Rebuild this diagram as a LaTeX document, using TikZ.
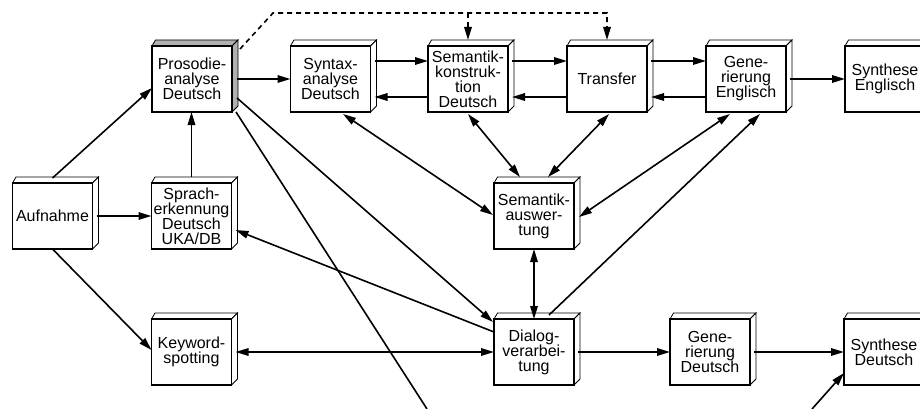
\documentclass[tikz,border=0pt]{standalone}
\usepackage{fontspec}
\setmainfont{Liberation Sans}
\usetikzlibrary{arrows.meta,calc}
\tikzset{
  bx/.style={draw,fill=white,line width=1.9pt,minimum width=80,minimum height=66,inner sep=0pt,outer sep=0pt,align=center,font=\fontsize{16}{15}\selectfont},
  depth/.style={line width=0.8pt,line join=miter},
  tip/.tip={Triangle[length=13pt,width=7.5pt]},
  conn/.style={line width=1.6pt,-tip},
  bconn/.style={line width=1.6pt,tip-tip},
  pline/.style={line width=1.6pt},
  dline/.style={line width=1.6pt,dash pattern=on 5pt off 4pt,-tip}
}
\newcommand\mybox[5]{%
  \filldraw[depth,fill=#4] ({#2-40},{#3-33}) -- ({#2-36.5},{#3-39}) -- ({#2+46},{#3-39}) -- ({#2+40},{#3-33}) -- cycle;
  \filldraw[depth,fill=#4] ({#2+40},{#3-33}) -- ({#2+46},{#3-39}) -- ({#2+46},{#3+27}) -- ({#2+40},{#3+33}) -- cycle;
  \node[bx] (#1) at (#2,#3) {#5};
}
\begin{document}
\begin{tikzpicture}[x=1pt,y=-1pt]
\useasboundingbox[fill=white] (0,0) rectangle (920,409);
% boxes
\mybox{pros}{192}{79}{gray!62}{Prosodie-\\analyse\\Deutsch}
\mybox{syn}{330.5}{79}{white}{Syntax-\\analyse\\Deutsch}
\mybox{skon}{468}{79}{white}{Semantik-\\konstruk-\\tion\\Deutsch}
\mybox{trans}{607}{79}{white}{Transfer}
\mybox{geng}{746}{79}{white}{Gene-\\rierung\\Englisch}
\mybox{seng}{885}{79}{white}{Synthese\\Englisch}
\mybox{auf}{52.5}{216}{white}{Aufnahme}
\mybox{spr}{191.5}{216}{white}{Sprach-\\erkennung\\Deutsch\\UKA/DB}
\mybox{sausw}{534}{216}{white}{Semantik-\\auswer-\\tung}
\mybox{kw}{191.5}{352}{white}{Keyword-\\spotting}
\mybox{dia}{534}{352}{white}{Dialog-\\verarbei-\\tung}
\mybox{gdeu}{710}{352}{white}{Gene-\\rierung\\Deutsch}
\mybox{sdeu}{884}{352}{white}{Synthese\\Deutsch}
% free ends
\coordinate (cutA) at (427,409);
\coordinate (cutB) at (812,409);
\coordinate (dk) at (273,13);
% connectors
\draw[conn] ([yshift=5pt]auf.north) -- ([yshift=-9pt]pros.west);
\draw[conn] ([xshift=4pt]auf.east) -- (spr.west);
\draw[conn] (auf.south) -- ([yshift=2pt]kw.west);
\draw[conn] ([yshift=6pt]spr.north) -- (spr.north |- pros.south);
\draw[conn] ([xshift=5pt]pros.east) -- (syn.west);
\draw[conn] ([xshift=4pt,yshift=18pt]syn.east) -- ([yshift=18pt]skon.west);
\draw[conn] ([yshift=-18pt]skon.west) -- ([xshift=4pt,yshift=-18pt]syn.east);
\draw[conn] ([xshift=4pt,yshift=18pt]skon.east) -- ([yshift=18pt]trans.west);
\draw[conn] ([yshift=-18pt]trans.west) -- ([xshift=4pt,yshift=-18pt]skon.east);
\draw[conn] ([xshift=4pt,yshift=18pt]trans.east) -- ([yshift=18pt]geng.west);
\draw[conn] ([yshift=-18pt]geng.west) -- ([xshift=4pt,yshift=-18pt]trans.east);
\draw[conn] ([xshift=4pt]geng.east) -- (seng.west);
\draw[dline] ([xshift=8pt,yshift=-3pt]pros.north east) -- (dk) -| ([yshift=6pt]trans.north);
\draw[dline] (dk -| skon.north) -- ([yshift=6pt]skon.north);
\draw[bconn] ([xshift=12.5pt,yshift=-2pt]syn.south) -- ([xshift=-1pt,yshift=1pt]sausw.west);
\draw[bconn] ([yshift=-2pt]skon.south) -- ([xshift=-14pt,yshift=6pt]sausw.north);
\draw[bconn] ([xshift=2pt,yshift=-2pt]trans.south) -- ([xshift=14pt,yshift=6pt]sausw.north);
\draw[bconn] ([xshift=-16pt,yshift=-2pt]geng.south) -- ([xshift=5pt,yshift=-1pt]sausw.east);
\draw[conn] ([xshift=15pt,yshift=4pt]dia.north) -- ([xshift=14pt,yshift=-2pt]geng.south);
\draw[bconn] (sausw.south) -- (dia.north);
\draw[conn] ([xshift=5pt,yshift=-19pt]pros.east) -- ([xshift=-1pt,yshift=-3pt]dia.north west);
\draw[pline] ([xshift=4pt,yshift=-33pt]pros.east) -- (cutA);
\draw[conn] ([yshift=20pt]dia.west) -- ([xshift=4pt,yshift=-14pt]spr.east);
\draw[bconn] ([xshift=4pt]kw.east) -- (dia.west);
\draw[conn] ([xshift=4pt]dia.east) -- (gdeu.west);
\draw[conn] ([xshift=4pt]gdeu.east) -- (sdeu.west);
\draw[conn] (cutB) -- ([yshift=-21pt]sdeu.west);
\end{tikzpicture}
\end{document}
